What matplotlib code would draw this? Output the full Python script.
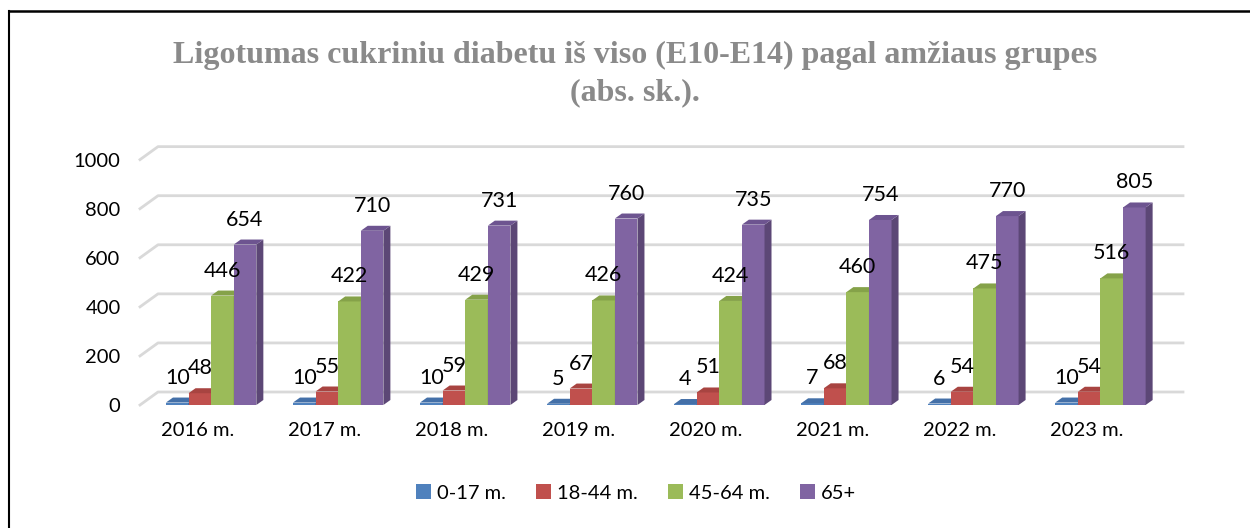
import matplotlib
matplotlib.use('Agg')
import matplotlib.pyplot as plt
from matplotlib.patches import Polygon, Patch
from matplotlib.lines import Line2D

# data
years = ['2016 m.', '2017 m.', '2018 m.', '2019 m.', '2020 m.', '2021 m.', '2022 m.', '2023 m.']
groups = ['0-17 m.', '18-44 m.', '45-64 m.', '65+']
age_0_17 = [10, 10, 10, 5, 4, 7, 6, 10]
age_18_44 = [48, 55, 59, 67, 51, 68, 54, 54]
age_45_64 = [446, 422, 429, 426, 424, 460, 475, 516]
age_65 = [654, 710, 731, 760, 735, 754, 770, 805]
series = [age_0_17, age_18_44, age_45_64, age_65]
yticks = [0, 200, 400, 600, 800, 1000]

front = ['#4F81BD', '#C0504D', '#9BBB59', '#8064A2']
side = ['#385D8A', '#8C3836', '#71893F', '#5C4776']
top = ['#4470A8', '#A84441', '#85A249', '#6D5490']

W, H = 1250, 528
fig = plt.figure(figsize=(12.5, 5.28), dpi=100)
fig.patch.set_facecolor('white')

# axes box in pixels
ax_l, ax_r, ax_b, ax_t = 140, 1183, 405, 140
ax = fig.add_axes([ax_l / W, 1 - ax_b / H, (ax_r - ax_l) / W, (ax_b - ax_t) / H])
xmin, xmax = -0.56, 7.65
ymin, ymax = 0, 1080
ax.set_xlim(xmin, xmax)
ax.set_ylim(ymin, ymax)
sx = (ax_r - ax_l) / (xmax - xmin)
sy = (ax_b - ax_t) / (ymax - ymin)

# fake 3D depth
wdx, wdy = 18 / sx, 13 / sy
bdx, bdy = 7 / sx, 5 / sy
bw = 22.6 / sx

for v in yticks:
    ax.plot([xmin, xmin + wdx, xmax], [v, v + wdy, v + wdy], color='#d9d9d9',
            lw=2, zorder=0, clip_on=False)

for i in range(len(years)):
    for k, vals in enumerate(series):
        v = vals[i]
        x = i + (k - 1.5) * bw
        z = 2 + k * 0.1
        ax.bar(x, v, width=bw, color=front[k], zorder=z, linewidth=0)
        xr = x + bw / 2
        xl = x - bw / 2
        ax.add_patch(Polygon([(xr, 0), (xr + bdx, bdy), (xr + bdx, v + bdy), (xr, v)],
                             closed=True, facecolor=side[k], edgecolor='none', zorder=z))
        ax.add_patch(Polygon([(xl, v), (xr, v), (xr + bdx, v + bdy), (xl + bdx, v + bdy)],
                             closed=True, facecolor=top[k], edgecolor='none', zorder=z))
        ax.annotate(str(v), (x, v), xytext=(0, 18), textcoords='offset points',
                    ha='center', va='center', fontsize=15.5, family='Lato', zorder=5)

ax.set_yticks(yticks)
ax.set_yticklabels([str(t) for t in yticks], family='Lato', fontsize=14.5)
ax.set_xticks([i - 0.11 for i in range(len(years))])
ax.set_xticklabels(years, family='Lato', fontsize=14.5)
ax.tick_params(axis='y', length=0, pad=14)
ax.tick_params(axis='x', length=0, pad=12)
for s in ax.spines.values():
    s.set_visible(False)
ax.set_facecolor('none')

fig.text(635 / W, 1 - 55 / H, 'Ligotumas cukriniu diabetu iš viso (E10-E14) pagal amžiaus grupes',
         ha='center', va='center', fontsize=23, fontweight='bold', color='#8a8a8a',
         family='Liberation Serif')
fig.text(635 / W, 1 - 93 / H, '(abs. sk.).', ha='center', va='center', fontsize=23,
         fontweight='bold', color='#8a8a8a', family='Liberation Serif')

handles = [Patch(facecolor=c, edgecolor='none') for c in front]
fig.legend(handles, groups, loc='center', bbox_to_anchor=(636 / W, 1 - 493 / H), ncol=4,
           frameon=False, prop={'family': 'Lato', 'size': 14.5}, handlelength=0.75,
           handleheight=0.75, handletextpad=0.3, columnspacing=1.5)

# frame lines
fig.add_artist(Line2D([9 / W, 1], [1 - 11 / H, 1 - 11 / H], color='black', lw=1.8))
fig.add_artist(Line2D([9 / W, 9 / W], [0, 1 - 11 / H], color='black', lw=1.5))

fig.savefig('out.png', dpi=100)
plt.close(fig)
